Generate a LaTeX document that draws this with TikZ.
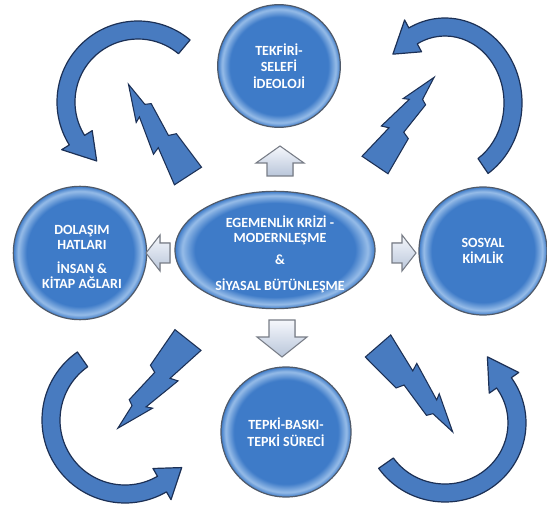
\documentclass[tikz,border=0pt]{standalone}
\usepackage{fontspec}
\setmainfont{Carlito}
\usetikzlibrary{shapes.geometric}
\definecolor{nodeblue}{RGB}{62,123,200}
\definecolor{rimblue}{RGB}{150,188,232}
\definecolor{nodeline}{RGB}{80,90,105}
\definecolor{arrowfill}{RGB}{72,123,192}
\definecolor{arrowline}{RGB}{28,48,85}
\definecolor{blockline}{RGB}{120,125,135}
\definecolor{blocklight}{RGB}{245,247,252}
\definecolor{blockdark}{RGB}{185,198,218}
\pgfdeclareradialshading{glossy}{\pgfpoint{0bp}{0bp}}{color(0bp)=(nodeblue); color(20bp)=(nodeblue); color(23.2bp)=(rimblue); color(25bp)=(nodeblue); color(50bp)=(nodeblue)}
\tikzset{
  bubble/.style={circle, shading=glossy, draw=nodeline, line width=0.9pt, text=white,
    font=\bfseries\fontsize{10.5}{12.5}\selectfont, align=center, inner sep=0pt},
  curvearrow/.style={fill=arrowfill, draw=arrowline, line width=0.9pt, line join=round},
  boltshape/.style={fill=arrowfill, draw=arrowline, line width=0.8pt, line join=miter},
  blockarrow/.style={top color=blocklight, bottom color=blockdark, draw=blockline, line width=0.8pt, line join=miter},
}
% #1 centre, #2 x radius, #3 y radius, #4 tail angle, #5 head base angle, #6 tip angle, #7 tip radial offset
\newcommand\curvedarrow[7]{%
  \begin{scope}[shift={(#1)}]
    \filldraw[curvearrow]
      ({(#2+9)*cos(#4)},{(#3+9)*sin(#4)})
      arc[start angle={#4}, end angle={#5}, x radius={#2+9}, y radius={#3+9}]
      -- ({(#2+18)*cos(#5)},{(#3+18)*sin(#5)})
      -- ({(#2+#7)*cos(#6)},{(#3+#7)*sin(#6)})
      -- ({(#2-18)*cos(#5)},{(#3-18)*sin(#5)})
      -- ({(#2-9)*cos(#5)},{(#3-9)*sin(#5)})
      arc[start angle={#5}, end angle={#4}, x radius={#2-9}, y radius={#3-9}]
      -- cycle;
  \end{scope}}
% #1 base centre, #2 direction, #3 scale
\newcommand\lightningbolt[3]{%
  \filldraw[boltshape, shift={(#1)}, rotate=#2, scale=#3]
    (0,17) -- (42,10) -- (39,18) -- (80,9) -- (77,15) -- (115,0)
    -- (88,-3) -- (85,-9) -- (47,-6) -- (44,-14) -- (0,-17) -- cycle;}
% #1 base centre, #2 rotation, #3 shaft half width, #4 head half width, #5 head start, #6 length
\newcommand\blockarrow[6]{%
  \filldraw[blockarrow, shift={(#1)}, rotate=#2]
    (-#3,0) -- (#3,0) -- (#3,#5) -- (#4,#5) -- (0,#6) -- (-#4,#5) -- (-#3,#5) -- cycle;}

\begin{document}
\begin{tikzpicture}[x=0.75pt,y=0.75pt]
  \useasboundingbox (0,0) rectangle (547,508);
  \fill[white] (0,0) rectangle (547,508);

  % curved arrows
  \curvedarrow{138,406}{72}{72}{50}{212}{235}{0}
  \curvedarrow{445,405}{68}{76}{-56}{118}{140}{0}
  \curvedarrow{125,88}{74}{74}{125}{300}{320}{0}
  \curvedarrow{445,85}{72}{70}{215}{395}{418}{8}

  % lightning bolts
  \lightningbolt{188,332}{123}{0.95}
  \lightningbolt{375,343}{56}{0.92}
  \lightningbolt{188,168}{231.5}{0.98}
  \lightningbolt{378,162}{-49}{0.99}

  % nodes
  \node[bubble, minimum size=92pt] (top) at (279,442) {TEKFİRİ-\\SELEFİ\\İDEOLOJİ};
  \node[bubble, minimum size=100pt] (left) at (80,255) {};
  \node[font=\bfseries\fontsize{10.5}{11}\selectfont, text=white, align=center] (lefttext) at (82,251)
    {DOLAŞIM\\HATLARI\\[7pt]İNSAN \&\\KİTAP AĞLARI};
  \node[bubble, minimum size=96pt] (right) at (483,257) {SOSYAL\\KİMLİK};
  \node[bubble, minimum size=97.5pt] (bottom) at (286,76) {TEPKİ-BASKI-\\TEPKİ SÜRECİ};
  \node[bubble, ellipse, minimum width=150pt, minimum height=88pt] (centre) at (275,258) {};
  \node[font=\bfseries\fontsize{10.5}{11}\selectfont, text=white, align=center] (centretext) at (280,254)
    {EGEMENLİK KRİZİ -\\MODERNLEŞME\\[6pt]\&\\[8pt]SİYASAL BÜTÜNLEŞME};

  % block arrows from the centre to the circles
  \blockarrow{280,332}{0}{13}{24}{13}{30}
  \blockarrow{282,188}{180}{13}{25}{17}{37}
  \blockarrow{170,255}{90}{10}{18}{10}{24}
  \blockarrow{392,255}{-90}{10}{18}{10}{24}
\end{tikzpicture}
\end{document}
